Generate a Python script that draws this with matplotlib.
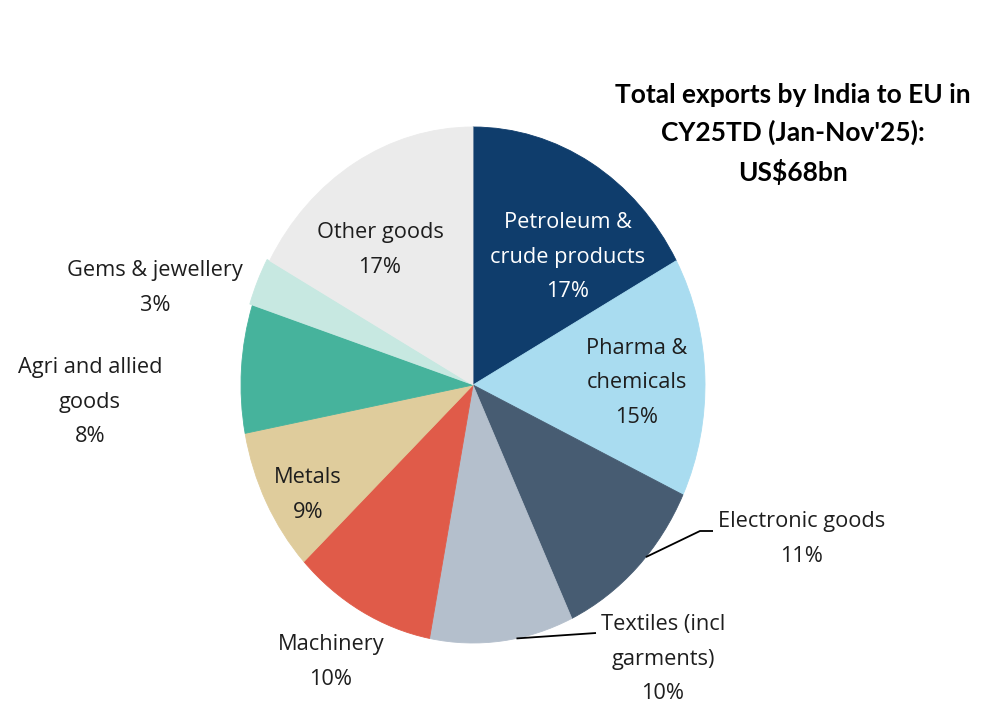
import numpy as np
import matplotlib.pyplot as plt

plt.rcParams['font.family'] = ['Open Sans', 'DejaVu Sans']

# export shares (%) by product group, clockwise from 12 o'clock
categories = ['Petroleum &\ncrude products', 'Pharma &\nchemicals', 'Electronic goods',
              'Textiles (incl\ngarments)', 'Machinery', 'Metals', 'Agri and allied\ngoods',
              'Gems & jewellery', 'Other goods']
shares = [17, 15, 11, 10, 10, 9, 8, 3, 17]
colors = ['#0f3d6c', '#a9dcf0', '#475c72', '#b4bfcc', '#e05b49',
          '#dfcc9c', '#46b39c', '#c7e8e1', '#ebebeb']
explode = [0, 0, 0, 0, 0, 0, 0, 0.012, 0]
title = "Total exports by India to EU in\nCY25TD (Jan-Nov'25):\nUS$68bn"

W, H = 982, 705
cx, cy = 473, 385      # pie centre in pixels
rx, ry = 232, 258      # the pie is drawn a bit taller than wide

fig = plt.figure(figsize=(W / 100, H / 100), dpi=100)
ax = fig.add_axes([0, 0, 1, 1])
ax.set_axis_off()

wedges, _ = ax.pie(shares, colors=colors, startangle=90, counterclock=False,
                   explode=explode, radius=1, center=(0, 0),
                   wedgeprops=dict(linewidth=0.6))
for w in wedges:
    w.set_edgecolor(w.get_facecolor())
ax.set_aspect('auto')
ax.set_xlim(-cx / rx, (W - cx) / rx)
ax.set_ylim(-(H - cy) / ry, cy / ry)


def to_data(px, py):
    return (px - cx) / rx, (cy - py) / ry


def fig_xy(px, py):
    return px / W, 1 - py / H


# label centre positions (pixels) and text colour
label_pos = [(568, 257), (637, 383), (802, 539), (663, 659), (331, 662),
             (308, 495), (90, 402), (155, 288), (380, 250)]
label_col = ['white'] + ['#1e1e1e'] * 8

for name, val, (px, py), col in zip(categories, shares, label_pos, label_col):
    fig.text(*fig_xy(px, py), f'{name}\n{val}%', ha='center', va='center',
             fontsize=15.7, color=col, linespacing=1.84)


# leader lines for the two outside labels
def leader(idx, frac, pts):
    w = wedges[idx]
    ang = np.deg2rad(w.theta1 + frac * (w.theta2 - w.theta1))
    xs = [np.cos(ang)] + [to_data(*p)[0] for p in pts]
    ys = [np.sin(ang)] + [to_data(*p)[1] for p in pts]
    ax.plot(xs, ys, color='black', lw=1.3, solid_capstyle='butt', clip_on=False)


leader(2, 0.58, [(700, 531), (713, 531)])
leader(3, 0.60, [(596, 633)])

fig.text(*fig_xy(793, 134), title, ha='center', va='center', fontsize=19,
         fontweight='bold', color='black', linespacing=1.6,
         family=['Lato', 'DejaVu Sans'])

fig.savefig('out.png', dpi=100)
